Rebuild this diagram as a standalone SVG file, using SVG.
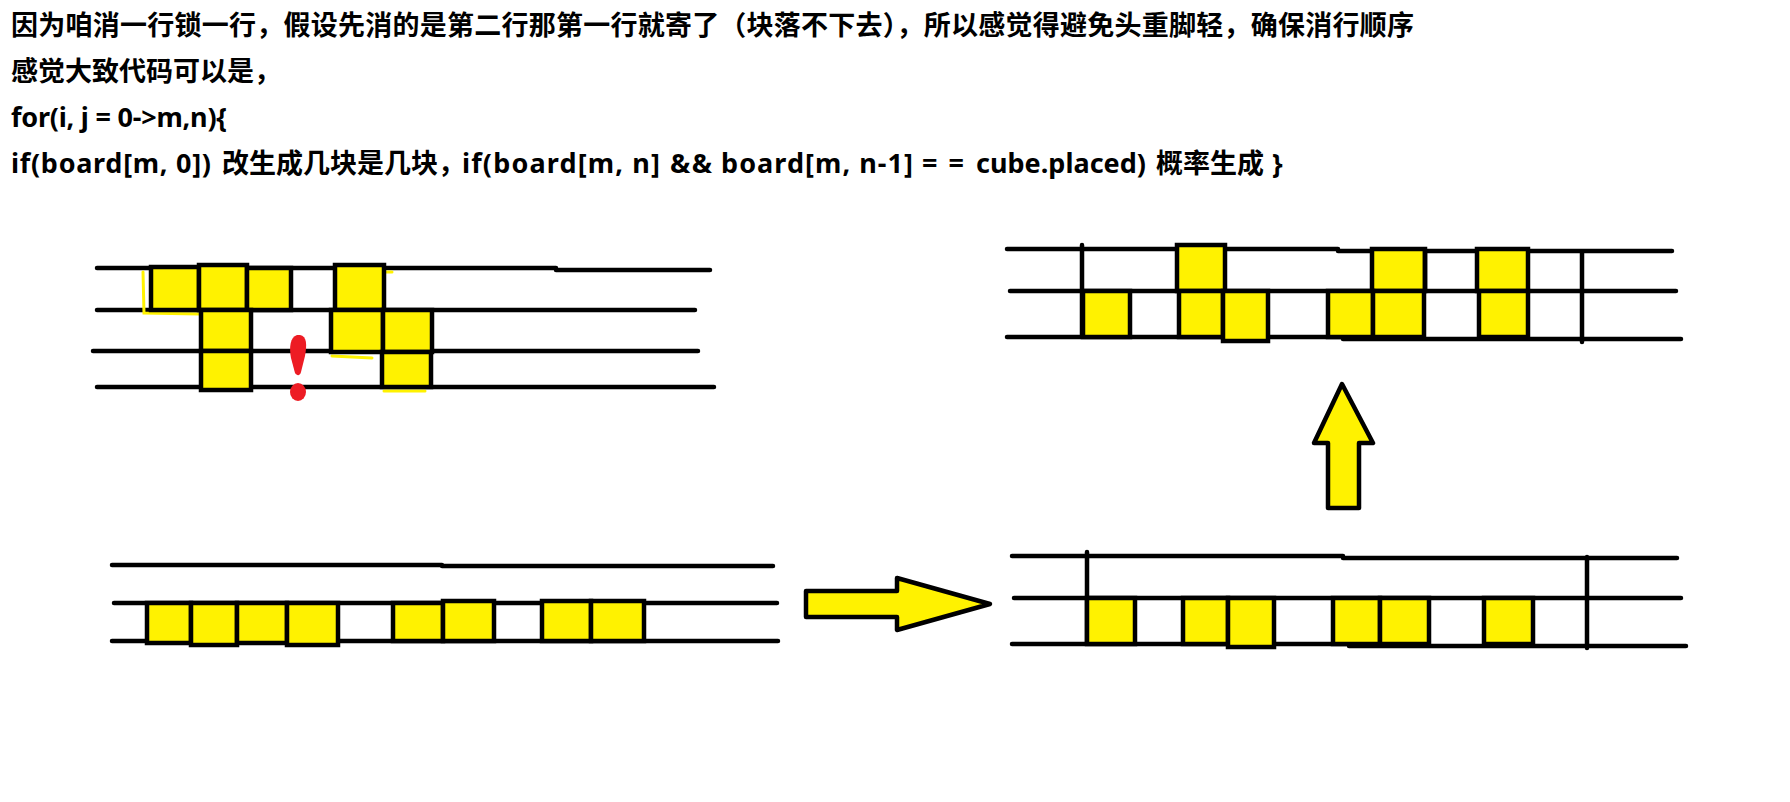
<svg xmlns="http://www.w3.org/2000/svg" width="1790" height="802" viewBox="0 0 1790 802">
<style>
.t{font-family:"Noto Sans","Noto Sans CJK SC","Microsoft YaHei",sans-serif;font-weight:bold;font-size:27px;fill:#000}
.ln{stroke:#000;stroke-width:4.5;stroke-linecap:round;fill:none}
.c{fill:#FFF200;stroke:#000;stroke-width:4.5}
.ar{fill:#FFF200;stroke:#000;stroke-width:4.5;stroke-linejoin:round}
.sk{stroke:#FFF200;stroke-width:3;fill:none;stroke-linecap:round}
</style>
<rect width="1790" height="802" fill="#fff"/>
<g id="text">
<text class="t" x="11" y="35" textLength="1403">因为咱消一行锁一行，假设先消的是第二行那第一行就寄了（块落不下去），所以感觉得避免头重脚轻，确保消行顺序</text>
<text class="t" x="11" y="81">感觉大致代码可以是，</text>
<text class="t" x="11" y="127" textLength="216">for(i, j = 0-&gt;m,n){</text>
<text class="t" y="173"><tspan x="11" textLength="200">if(board[m, 0])</tspan><tspan x="222">改生成几块是几块，</tspan><tspan x="462" textLength="198">if(board[m, n]</tspan><tspan x="670" textLength="42">&amp;&amp;</tspan><tspan x="721" textLength="192">board[m, n-1]</tspan><tspan x="922" textLength="42">==</tspan><tspan x="976" textLength="170">cube.placed)</tspan><tspan x="1156">概率生成</tspan><tspan x="1272">}</tspan></text>
</g>
<g id="board-top-left">
<path class="ln" d="M97 268H556M556 270H710M97 310H695M93 351H698M97 387H714"/>
<path class="sk" d="M143 272L144 313L200 314M384 272H392M332 356L372 358M384 391H425"/>
<rect class="c" x="151" y="267" width="48" height="43"/>
<rect class="c" x="199" y="265" width="48" height="45"/>
<rect class="c" x="247" y="268" width="44" height="42"/>
<rect class="c" x="335" y="265" width="49" height="45"/>
<rect class="c" x="201" y="310" width="50" height="41"/>
<rect class="c" x="201" y="351" width="50" height="39"/>
<rect class="c" x="331" y="310" width="52" height="42"/>
<rect class="c" x="383" y="310" width="49" height="42"/>
<rect class="c" x="382" y="352" width="49" height="35"/>
<path d="M297 335C290 337 289 348 291 358L295 373C297 376 300 376 301 372L305 356C307 345 307 336 300 335Z" fill="#ED1C24"/>
<ellipse cx="298" cy="392" rx="8" ry="9" fill="#ED1C24"/>
</g>
<g id="board-top-right">
<path class="ln" d="M1007 249H1338M1338 251H1672M1010 291H1676M1007 337H1343M1343 339H1681M1082 245V337M1582 251V342"/>
<rect class="c" x="1177" y="245" width="48" height="46"/>
<rect class="c" x="1372" y="249" width="53" height="42"/>
<rect class="c" x="1477" y="249" width="51" height="42"/>
<path class="ln" d="M1425 251V291"/>
<rect class="c" x="1083" y="291" width="47" height="46"/>
<rect class="c" x="1179" y="291" width="44" height="46"/>
<rect class="c" x="1223" y="291" width="45" height="50"/>
<rect class="c" x="1328" y="291" width="45" height="46"/>
<rect class="c" x="1373" y="291" width="51" height="46"/>
<rect class="c" x="1479" y="291" width="49" height="46"/>
</g>
<g id="board-bottom-left">
<path class="ln" d="M112 565H442M442 566H773M114 603H777M112 641H778"/>
<rect class="c" x="147" y="603" width="44" height="40"/>
<rect class="c" x="191" y="603" width="46" height="42"/>
<rect class="c" x="237" y="603" width="50" height="40"/>
<rect class="c" x="287" y="603" width="51" height="42"/>
<rect class="c" x="393" y="603" width="50" height="38"/>
<rect class="c" x="443" y="601" width="51" height="40"/>
<rect class="c" x="542" y="601" width="49" height="40"/>
<rect class="c" x="591" y="601" width="53" height="40"/>
</g>
<g id="board-bottom-right">
<path class="ln" d="M1012 556H1343M1343 558H1677M1014 598H1681M1012 644H1349M1349 646H1686M1087 552V644M1587 557V648"/>
<rect class="c" x="1087" y="598" width="48" height="46"/>
<rect class="c" x="1183" y="598" width="45" height="46"/>
<rect class="c" x="1228" y="598" width="46" height="49"/>
<rect class="c" x="1333" y="598" width="47" height="46"/>
<rect class="c" x="1380" y="598" width="49" height="46"/>
<rect class="c" x="1484" y="598" width="49" height="46"/>
</g>
<g id="connectors">
<polygon id="arrow-right" class="ar" points="806,591 897,591 897,578 990,604 897,630 897,617 806,617"/>
<polygon id="arrow-up" class="ar" points="1342,384 1373,443 1359,443 1359,508 1328,508 1328,443 1314,443"/>
</g>
</svg>
